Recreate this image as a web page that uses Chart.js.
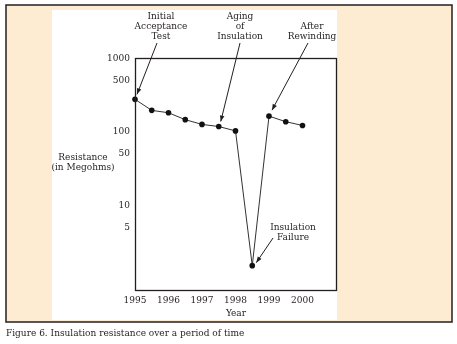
<!DOCTYPE html>
<html>
<head>
<meta charset="utf-8">
<script src="https://cdn.jsdelivr.net/npm/chart.js@4.4.0/dist/chart.umd.min.js"></script>
<style>
html, body { margin:0; padding:0; background:#fff; }
#wrap { width:457px; height:344px; position:relative; }
</style>
</head>
<body>
<div id="wrap"><canvas id="chart1" width="457" height="344"></canvas></div>
<script>
// data
const years = [1995, 1995.5, 1996, 1996.5, 1997, 1997.5, 1998, 1998.5, 1999, 1999.5, 2000];
const resistance = [274, 194, 180, 145, 125, 117, 102, 1.5, 162, 136, 121];
const yTicks = [5, 10, 50, 100, 500, 1000];
const xTicks = [1995, 1996, 1997, 1998, 1999, 2000];
const noteLines = [['Initial', 'Acceptance', 'Test'], ['Aging', 'of', 'Insulation'], ['After', 'Rewinding'], ['Insulation', 'Failure']];
const notePoints = [0, 5, 8, 7];

const FAMILY = '"DejaVu Serif Condensed", "Liberation Serif", serif';
const FONT = '10px ' + FAMILY;
const INK = '#231f20';

// where the callout texts sit and where the arrows start
const noteLayout = [
    {x: 161, y: 16, from: [157, 43], off: [2, -5]},
    {x: 240, y: 16, from: [240, 43], off: [2, -5]},
    {x: 312, y: 26, from: [308, 43], off: [3, -6]},
    {x: 293, y: 227, from: [273, 238], off: [4, -3]}
];

function arrow(ctx, x1, y1, x2, y2){
    ctx.beginPath();
    ctx.moveTo(x1, y1);
    ctx.lineTo(x2, y2);
    ctx.stroke();
    var a = Math.atan2(y2 - y1, x2 - x1);
    var len = 6, w = 2.3;
    ctx.beginPath();
    ctx.moveTo(x2, y2);
    ctx.lineTo(x2 - len*Math.cos(a) + w*Math.sin(a), y2 - len*Math.sin(a) - w*Math.cos(a));
    ctx.lineTo(x2 - len*Math.cos(a) - w*Math.sin(a), y2 - len*Math.sin(a) + w*Math.cos(a));
    ctx.closePath();
    ctx.fill();
}

const backdrop = {
    id: 'backdrop',
    beforeDraw(chart){
        var ctx = chart.ctx;
        ctx.save();
        ctx.fillStyle = '#fff';
        ctx.fillRect(0, 0, 457, 344);
        ctx.fillStyle = '#fdecd1';
        ctx.fillRect(6, 5, 446, 317);
        ctx.fillStyle = '#fff';
        ctx.fillRect(52, 10, 285, 310);
        ctx.strokeStyle = INK;
        ctx.lineWidth = 1.5;
        ctx.strokeRect(6, 5, 446, 317);
        ctx.restore();
    },
    afterDraw(chart){
        var ctx = chart.ctx;
        var a = chart.chartArea;
        var xs = chart.scales.x, ys = chart.scales.y;
        ctx.save();
        ctx.strokeStyle = INK;
        ctx.lineWidth = 1.3;
        ctx.strokeRect(a.left + 0.5, a.top + 0.5, a.right - a.left, a.bottom - a.top);

        ctx.fillStyle = INK;
        ctx.font = FONT;
        ctx.textAlign = 'center';
        ctx.textBaseline = 'middle';
        ctx.fillText('Resistance', 83, 157);
        ctx.fillText('(in Megohms)', 83, 167);
        ctx.fillText('Year', 236, 313);

        ctx.lineWidth = 1;
        for(var i = 0; i < noteLines.length; i++){
            var L = noteLayout[i];
            for(var j = 0; j < noteLines[i].length; j++){
                ctx.fillText(noteLines[i][j], L.x, L.y + j*10);
            }
            var k = notePoints[i];
            var px = xs.getPixelForValue(years[k]) + L.off[0];
            var py = ys.getPixelForValue(resistance[k]) + L.off[1];
            arrow(ctx, L.from[0], L.from[1], px, py);
        }

        ctx.textAlign = 'left';
        ctx.fillText('Figure 6. Insulation resistance over a period of time', 6, 333);
        ctx.restore();
    }
};

const chart1 = document.getElementById('chart1').getContext('2d');
var mychart = new Chart(chart1, {
    type: 'line',
    data: {
        datasets: [{
            data: years.map(function(y, i){ return {x: y, y: resistance[i]}; }),
            borderColor: '#333',
            borderWidth: 1,
            backgroundColor: '#111',
            pointRadius: 2.8,
            pointBorderWidth: 0,
            tension: 0,
            clip: false
        }]
    },
    options: {
        responsive: false,
        animation: false,
        events: [],
        layout: { padding: {left: 0, top: 58, right: 121, bottom: 0} },
        plugins: { legend: {display: false}, tooltip: {enabled: false} },
        scales: {
            x: {
                type: 'linear', min: 1995, max: 2001,
                grid: {display: false, drawTicks: false},
                border: {display: false},
                afterFit: function(s){ s.height = 54; },
                afterBuildTicks: function(s){ s.ticks = xTicks.map(function(v){ return {value: v}; }); },
                ticks: { padding: 4, maxRotation: 0, color: INK, font: {family: FAMILY, size: 10},
                    callback: function(v){ return String(v); } }
            },
            y: {
                type: 'logarithmic', min: 0.7, max: 1000,
                grid: {display: false, drawTicks: false},
                border: {display: false},
                afterFit: function(s){ s.width = 135; },
                afterBuildTicks: function(s){ s.ticks = yTicks.map(function(v){ return {value: v}; }); },
                ticks: { padding: 5, color: INK, font: {family: FAMILY, size: 10},
                    callback: function(v){ return String(v); } }
            }
        }
    },
    plugins: [backdrop]
});
</script>
</body>
</html>
